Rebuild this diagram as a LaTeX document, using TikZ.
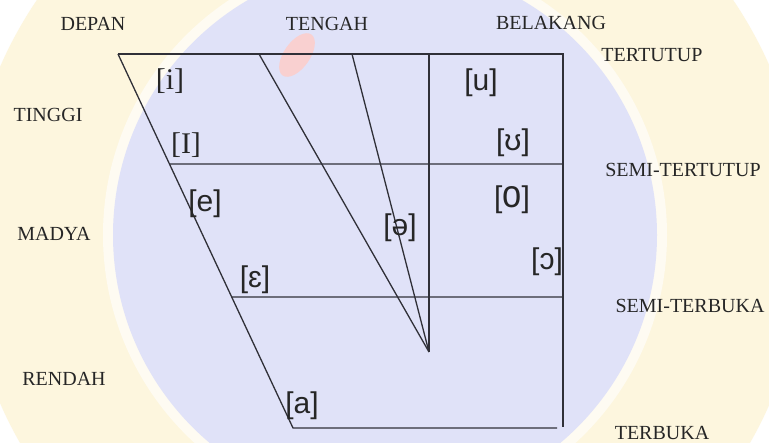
\documentclass[tikz,border=0pt]{standalone}
\usepackage{fontspec}
\setmainfont{Liberation Serif}
\newfontfamily\ipafont{Liberation Sans}
\usetikzlibrary{calc}
\definecolor{linec}{HTML}{303038}
\definecolor{wmblue}{HTML}{E0E2F8}
\definecolor{wmyellow}{HTML}{FDF6DE}
\definecolor{wmred}{HTML}{F9D0D0}
\tikzset{
  axislabel/.style={font=\fontsize{20}{20}\selectfont, text=black!85, anchor=base, inner sep=0pt},
  vowel/.style={font=\ipafont\fontsize{30}{30}\selectfont, text=black!85, inner sep=0pt},
  vowelserif/.style={font=\fontsize{30}{30}\selectfont, text=black!85, inner sep=0pt},
  chartline/.style={draw=linec, line width=1.3pt},
}
\begin{document}
\begin{tikzpicture}[x=1pt,y=-1pt]
\useasboundingbox (0,0) rectangle (769,443);
% watermark (faint background logo)
\begin{scope}
\clip (0,0) rectangle (769,443);
\fill[white] (0,0) rectangle (769,443);
\fill[wmyellow] (385,235) circle (420);
\fill[white!60!wmyellow] (385,235) circle (282);
\fill[wmblue] (385,235) circle (272);
\fill[wmred, rotate around={-35:(297,55)}] (297,55) ellipse (13 and 25);
\end{scope}
% chart geometry
\coordinate (TL) at (118,54);
\coordinate (TR) at (563,54);
\coordinate (BR) at (563,427);
\coordinate (BL) at (293,428);
\coordinate (BE) at (557,428);
\coordinate (M1) at (259,54);
\coordinate (M2) at (352,54);
\coordinate (MV) at (429,54);
\coordinate (AP) at (429,352);
\coordinate (ST1) at ($(TL)!0.294!(BL)$);
\coordinate (ST2) at (563,164);
\coordinate (SB1) at ($(TL)!0.65!(BL)$);
\coordinate (SB2) at (563,297);
\draw[chartline] (TL) -- (TR) -- (BR);
\draw[chartline] (TL) -- (BL) -- (BE);
\draw[chartline] (ST1) -- (ST2);
\draw[chartline] (SB1) -- (SB2);
\draw[chartline] (MV) -- (AP);
\draw[chartline] (M1) -- (AP);
\draw[chartline] (M2) -- (AP);
% axis labels
\node[axislabel] (depan) at (93,31) {DEPAN};
\node[axislabel] (tengah) at (327,31) {TENGAH};
\node[axislabel] (belakang) at (551,30) {BELAKANG};
\node[axislabel] (tertutup) at (652,62) {TERTUTUP};
\node[axislabel] (semitertutup) at (683,177) {SEMI-TERTUTUP};
\node[axislabel] (semiterbuka) at (690,313) {SEMI-TERBUKA};
\node[axislabel] (terbuka) at (662,440) {TERBUKA};
\node[axislabel] (tinggi) at (48,122) {TINGGI};
\node[axislabel] (madya) at (54,241) {MADYA};
\node[axislabel] (rendah) at (64,386) {RENDAH};
% vowels
\node[vowelserif] (vi) at (170,81.5) {[i]};
\node[vowelserif] (vI) at (186,145) {[I]};
\node[vowel] (ve) at (205,204) {[e]};
\node[vowel] (veps) at (255,280) {[ɛ]};
\node[vowel] (va) at (302,406) {[a]};
\node[vowel] (vschwa) at (400,228) {[ə]};
\node[vowel] (vu) at (481,82.5) {[u]};
\node[vowel] (vups) at (513,142.5) {[ʊ]};
\node[vowel] (vo) at (512,199.5) {[\scalebox{1.15}[1.3]{o}]};
\node[vowel] (vopen) at (547,262) {[ɔ]};
\end{tikzpicture}
\end{document}
